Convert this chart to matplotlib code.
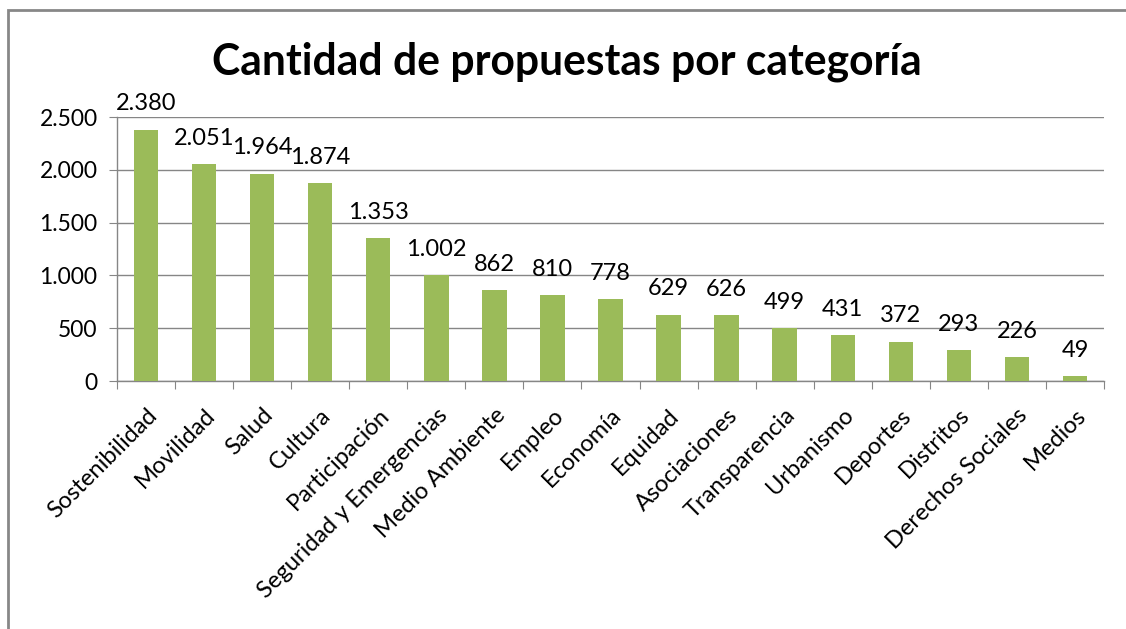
import matplotlib
matplotlib.use("Agg")
import matplotlib.pyplot as plt
from matplotlib.patches import Rectangle
from matplotlib.ticker import FuncFormatter, MultipleLocator

categories = ["Sostenibilidad", "Movilidad", "Salud", "Cultura", "Participación",
              "Seguridad y Emergencias", "Medio Ambiente", "Empleo", "Economía",
              "Equidad", "Asociaciones", "Transparencia", "Urbanismo", "Deportes",
              "Distritos", "Derechos Sociales", "Medios"]
values = [2380, 2051, 1964, 1874, 1353, 1002, 862, 810, 778, 629, 626, 499,
          431, 372, 293, 226, 49]
title = "Cantidad de propuestas por categoría"

FONT = ["Lato", "DejaVu Sans"]
plt.rcParams['font.family'] = FONT

def fmt(v, pos=None):
    return f"{int(v):,}".replace(",", ".")

W, H = 1126, 629
fig = plt.figure(figsize=(W / 100, H / 100), dpi=100)
fig.patch.set_facecolor("white")

# outer chart frame (top and left visible)
fig.add_artist(Rectangle((8 / W, -0.05), 1.2, (H - 10) / H + 0.05,
                         transform=fig.transFigure, fill=False,
                         edgecolor="#878787", linewidth=2))

ax = fig.add_axes([117 / W, 1 - 381 / H, (1104 - 117) / W, (381 - 117) / H])
x = list(range(len(categories)))
bars = ax.bar(x, values, width=0.42, color="#9BBB59", zorder=3)

ax.set_xlim(-0.5, len(categories) - 0.5)
ax.set_ylim(0, 2500)
ax.yaxis.set_major_locator(MultipleLocator(500))
ax.yaxis.set_major_formatter(FuncFormatter(fmt))
ax.grid(axis="y", color="#868686", linewidth=1, zorder=0)
ax.set_axisbelow(True)

for s in ["top", "right"]:
    ax.spines[s].set_visible(False)
for s in ["left", "bottom"]:
    ax.spines[s].set_color("#868686")
    ax.spines[s].set_linewidth(1)

# x ticks at category boundaries
ax.set_xticks([i - 0.5 for i in range(len(categories) + 1)], minor=False)
ax.set_xticklabels([])
ax.set_xticks(x, minor=True)
ax.set_xticklabels(categories, minor=True, rotation=45, ha="right",
                   rotation_mode="anchor", fontsize=17, color="black")
ax.tick_params(axis="x", which="major", length=6, color="#868686", direction="out")
ax.tick_params(axis="x", which="minor", length=0, pad=17)
ax.tick_params(axis="y", length=6, color="#868686", labelsize=16.5, pad=8,
               labelcolor="black")

for b, v in zip(bars, values):
    ax.annotate(fmt(v), (b.get_x() + b.get_width() / 2, v),
                xytext=(0, 11), textcoords="offset points",
                ha="center", va="bottom", fontsize=17, color="black",
                annotation_clip=False, zorder=4)

fig.text(567 / W, 1 - 62 / H, title, ha="center", va="center",
         fontsize=30.7, fontweight="bold", color="black")

fig.savefig("out.png", dpi=100, facecolor="white")
